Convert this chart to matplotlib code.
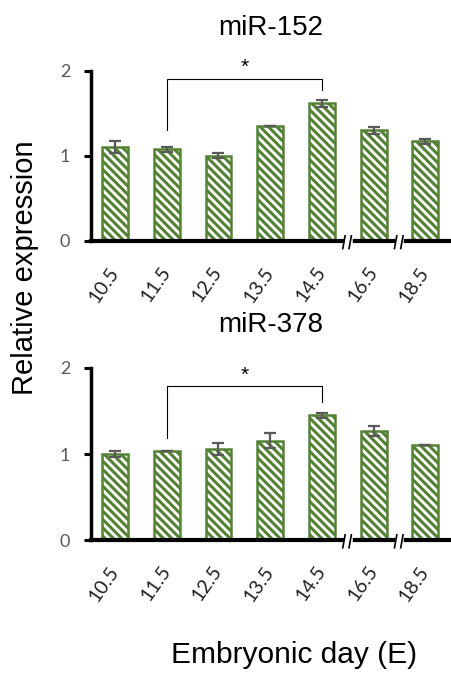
import matplotlib
matplotlib.use("Agg")
import matplotlib.pyplot as plt
import numpy as np
from matplotlib.transforms import ScaledTranslation

plt.rcParams['font.family'] = ['Liberation Sans', 'DejaVu Sans']
plt.rcParams['hatch.linewidth'] = 2.2

days = ["10.5", "11.5", "12.5", "13.5", "14.5", "16.5", "18.5"]
mir152 = [1.10, 1.08, 1.00, 1.35, 1.62, 1.30, 1.17]
mir152_err = [0.07, 0.03, 0.03, 0.0, 0.04, 0.04, 0.03]
mir378 = [1.00, 1.03, 1.055, 1.155, 1.45, 1.27, 1.11]
mir378_err = [0.03, 0.0, 0.07, 0.085, 0.03, 0.06, 0.0]
titles = ["miR-152", "miR-378"]
# bracket: (left index, right index, top, left leg end, right leg end)
brackets = [(1, 4, 1.91, 1.30, 1.77), (1, 4, 1.79, 1.19, 1.61)]
star_y = [2.04, 1.91]

green = "#548235"
grey = "#595959"
tickfont = ['Lato', 'DejaVu Sans']

fig = plt.figure(figsize=(4.51, 6.73), dpi=100)
axes_pos = [[0.2018, 0.642, 0.7962, 0.2526], [0.2018, 0.1976, 0.7962, 0.2556]]
series = [(mir152, mir152_err), (mir378, mir378_err)]
x = np.arange(len(days))

for k, (pos, (vals, errs)) in enumerate(zip(axes_pos, series)):
    ax = fig.add_axes(pos)
    ax.bar(x, vals, width=0.5, facecolor="white", edgecolor=green,
           hatch="\\\\\\\\", linewidth=1.8, zorder=2)
    ax.errorbar(x, vals, yerr=errs, fmt="none", ecolor=grey, elinewidth=1.6,
                capsize=4, capthick=1.6, zorder=3)
    ax.set_xlim(-0.465, 6.48)
    ax.set_ylim(0, 2)
    ax.set_yticks([0, 1, 2])
    ax.set_yticklabels(["0", "1", "2"], color=grey, fontsize=13, family=tickfont)
    ax.set_xticks(x)
    ax.set_xticklabels(days, rotation=55, ha="right", va="center",
                       rotation_mode="anchor", fontsize=14, color="#222222",
                       family=tickfont)
    for lab in ax.get_xticklabels():
        lab.set_transform(lab.get_transform() + ScaledTranslation(11 / 72, 0, fig.dpi_scale_trans))
    ax.tick_params(axis="x", length=0, pad=20)
    ax.tick_params(axis="y", length=5, width=2.2, direction="out", pad=10)
    for s in ["top", "right"]:
        ax.spines[s].set_visible(False)
    ax.spines["left"].set_linewidth(2.5)
    ax.spines["bottom"].set_linewidth(3)
    ax.spines["left"].set_bounds(0, 2)
    ax.set_title(titles[k], fontsize=20, pad=26, x=0.5)
    # significance bracket
    li, ri, top, lend, rend = brackets[k]
    ax.plot([li, li, ri, ri], [lend, top, top, rend], color="black", lw=0.8,
            clip_on=False, zorder=4)
    ax.text((li + ri) / 2, star_y[k], "*", ha="center", va="center", fontsize=15,
            clip_on=False)
    # axis break marks
    for bx in [(x[4] + x[5]) / 2, (x[5] + x[6]) / 2]:
        ax.plot([bx - 0.02, bx + 0.04], [0, 0], transform=ax.get_xaxis_transform(),
                color="white", lw=4, clip_on=False, zorder=5)
        for dx in [-3, 1.5]:
            tr = ax.get_xaxis_transform() + ScaledTranslation(dx / 72, 0, fig.dpi_scale_trans)
            ax.plot([bx - 0.015, bx + 0.03], [-0.045, 0.03], transform=tr,
                    color="black", lw=1.2, clip_on=False, zorder=6)

fig.text(0.055, 0.602, "Relative expression", rotation=90, ha="center",
         va="center", fontsize=21)
fig.text(0.652, 0.027, "Embryonic day (E)", ha="center", va="center",
         fontsize=21.5)

fig.savefig("out.png", dpi=100)
